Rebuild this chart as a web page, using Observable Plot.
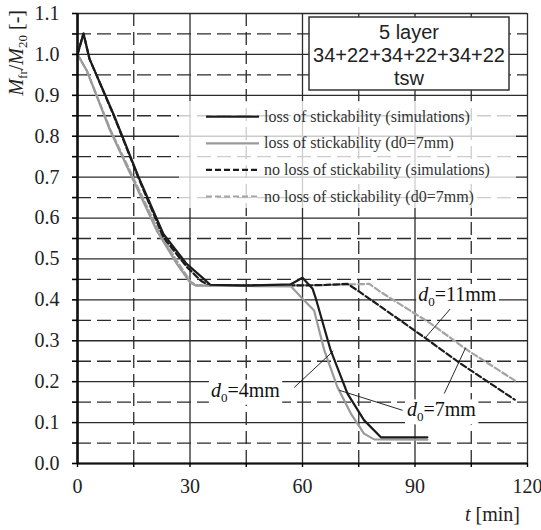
<!DOCTYPE html>
<html><head><meta charset="utf-8">
<script src="https://cdn.jsdelivr.net/npm/d3@7"></script>
<script src="https://cdn.jsdelivr.net/npm/@observablehq/plot@0.6"></script>
<style>body{margin:0;background:#fff}</style>
</head><body><div id="chart"></div>
<script>
// ---- data (t in min, Mfr/M20) ----
const lossSimT = [0, 1.6, 3.2, 9.6, 16.3, 22.9, 29.1, 33.6, 35.4, 45, 56.9, 60.0, 62.7, 63.5, 67.5, 72.0, 76.4, 80.9, 93.3];
const lossSimM = [1.0, 1.051, 0.989, 0.854, 0.70, 0.561, 0.488, 0.452, 0.437, 0.435, 0.438, 0.454, 0.427, 0.405, 0.277, 0.171, 0.106, 0.064, 0.064];
const loss7T = [0, 2.5, 8.7, 14.9, 21.1, 26.5, 30.0, 31.5, 45, 56.9, 60.4, 63.1, 65.8, 69.3, 72.9, 76.4, 79.1, 93.3];
const loss7M = [1.0, 0.96, 0.814, 0.692, 0.57, 0.488, 0.443, 0.435, 0.434, 0.433, 0.399, 0.374, 0.277, 0.187, 0.122, 0.073, 0.059, 0.058];
const noLossSimT = [0, 1.6, 3.2, 9.6, 16.3, 22.9, 29.1, 33.0, 35.0, 56, 65, 72.0, 74.7, 92.4, 102.2, 116.6];
const noLossSimM = [1.0, 1.051, 0.989, 0.852, 0.697, 0.553, 0.481, 0.446, 0.436, 0.435, 0.436, 0.439, 0.423, 0.309, 0.244, 0.156];
const noLoss7T = [0, 2.5, 8.7, 14.9, 21.1, 26.5, 30.3, 31.8, 56, 65, 77.8, 80.9, 94.2, 104.0, 117.3];
const noLoss7M = [1.0, 0.96, 0.817, 0.698, 0.578, 0.495, 0.443, 0.436, 0.435, 0.436, 0.439, 0.419, 0.342, 0.277, 0.199];

const seriesNames = ["loss of stickability (simulations)", "loss of stickability (d0=7mm)", "no loss of stickability (simulations)", "no loss of stickability (d0=7mm)"];
const seriesT = [lossSimT, loss7T, noLossSimT, noLoss7T];
const seriesM = [lossSimM, loss7M, noLossSimM, noLoss7M];

const xMajorTicks = [0, 30, 60, 90, 120];
const xMinorTicks = [15, 45, 75, 105];
const yMajorTicks = [0, 0.1, 0.2, 0.3, 0.4, 0.5, 0.6, 0.7, 0.8, 0.9, 1.0, 1.1];
const yMinorTicks = [0.05, 0.15, 0.25, 0.35, 0.45, 0.55, 0.65, 0.75, 0.85, 0.95, 1.05];

const titleLines = ["5 layer", "34+22+34+22+34+22", "tsw"];

// annotation labels (d0 = ...) and leader lines
const annotSizes = ["11mm", "7mm", "4mm"];
const annotT = [91.0, 88.0, 35.7];
const annotM = [0.396, 0.114, 0.162];
const leaderT1 = [99.5, 97.8, 86.7, 57.8];
const leaderM1 = [0.379, 0.171, 0.130, 0.186];
const leaderT2 = [92.9, 103.5, 69.8, 68.2];
const leaderM2 = [0.309, 0.283, 0.179, 0.275];

// ---- styles ----
const seriesColor = ["#1b1b1b", "#9a9a9a", "#1b1b1b", "#a4a4a4"];
const seriesDash = [null, null, "6,3", "6,3"];
const gridColor = "#2b2b2b";
const serif = "Liberation Serif";
const sans = "Liberation Sans";

const rows = seriesNames.flatMap((s, k) => seriesT[k].map((t, i) => ({series: k, t, m: seriesM[k][i]})));
const leaders = leaderT1.map((t, i) => ({t1: t, m1: leaderM1[i], t2: leaderT2[i], m2: leaderM2[i]}));

const legendFade = () => {
  const g = d3.create("svg:g");
  g.append("rect").attr("x", 179).attr("y", 101).attr("width", 337).attr("height", 107)
    .attr("fill", "white").attr("fill-opacity", 0.76);
  return g.node();
};
const titleBox = () => {
  const g = d3.create("svg:g");
  g.append("rect").attr("x", 309).attr("y", 17).attr("width", 200).attr("height", 73)
    .attr("fill", "white").attr("stroke", "#333").attr("stroke-width", 1.5);
  const tx = g.append("text").attr("font-family", sans).attr("font-size", 20)
    .attr("text-anchor", "middle").attr("fill", "#222");
  titleLines.forEach((t, k) => tx.append("tspan").attr("x", 409).attr("y", 38.5 + k * 23.3).text(t));
  return g.node();
};
const legend = () => {
  const g = d3.create("svg:g");
  seriesNames.forEach((name, k) => {
    const y = 116.7 + k * 26.6;
    g.append("line").attr("x1", 206).attr("x2", 259).attr("y1", y).attr("y2", y)
      .attr("stroke", seriesColor[k]).attr("stroke-width", 2.2)
      .attr("stroke-dasharray", seriesDash[k]);
    g.append("text").attr("x", 264).attr("y", y + 5).attr("font-family", serif)
      .attr("text-anchor", "start")
      .attr("font-size", 16).attr("fill", "#333").text(name);
  });
  return g.node();
};

const plot = Plot.plot({
  width: 541, height: 530,
  marginLeft: 77, marginRight: 14, marginTop: 13, marginBottom: 67,
  x: {domain: [0, 120]},
  y: {domain: [0, 1.1]},
  style: {background: "white"},
  marks: [
    Plot.ruleY(yMajorTicks, {stroke: gridColor, strokeWidth: 1.3}),
    Plot.ruleY(yMinorTicks, {stroke: gridColor, strokeWidth: 1.3, strokeDasharray: "14,6"}),
    Plot.ruleX(xMajorTicks, {stroke: gridColor, strokeWidth: 1.3}),
    Plot.ruleX(xMinorTicks, {stroke: gridColor, strokeWidth: 1.3, strokeDasharray: "13,6"}),
    legendFade,
    titleBox,
    Plot.line(rows.filter(d => d.series === 3), {x: "t", y: "m", stroke: seriesColor[3], strokeWidth: 2.2, strokeDasharray: "6,3"}),
    Plot.line(rows.filter(d => d.series === 2), {x: "t", y: "m", stroke: seriesColor[2], strokeWidth: 2.2, strokeDasharray: "6,3"}),
    Plot.line(rows.filter(d => d.series === 1), {x: "t", y: "m", stroke: seriesColor[1], strokeWidth: 2.2}),
    Plot.line(rows.filter(d => d.series === 0), {x: "t", y: "m", stroke: seriesColor[0], strokeWidth: 2.2}),
    Plot.link(leaders, {x1: "t1", y1: "m1", x2: "t2", y2: "m2", stroke: "#111", strokeWidth: 0.9}),
    Plot.ruleX([0], {stroke: "#111", strokeWidth: 2.6}),
    Plot.ruleY([0], {stroke: "#111", strokeWidth: 2.2}),
    Plot.axisY([...yMajorTicks, ...yMinorTicks], {tickSize: 5, tickPadding: 13, strokeWidth: 1.6,
      tickFormat: d => yMajorTicks.includes(d) ? d.toFixed(1) : "", label: null,
      fontSize: 20, fontFamily: "Liberation Serif", fill: "#222"}),
    Plot.axisX([...xMajorTicks, ...xMinorTicks], {tickSize: 4, tickPadding: 11, strokeWidth: 1.4,
      tickFormat: d => xMajorTicks.includes(d) ? String(d) : "", label: null,
      fontSize: 20, fontFamily: "Liberation Serif", fill: "#222"}),
    legend
  ]
});
document.getElementById("chart").append(plot);

// ---- text with italics / subscripts ----
const svg = d3.select(plot);
const sx = plot.scale("x"), sy = plot.scale("y");

annotSizes.forEach((s, i) => {
  const g = svg.append("g");
  const txt = g.append("text").attr("x", sx.apply(annotT[i])).attr("y", sy.apply(annotM[i]))
    .attr("text-anchor", "start")
    .attr("font-family", serif).attr("font-size", 20).attr("fill", "#111");
  txt.append("tspan").attr("font-style", "italic").text("d");
  txt.append("tspan").attr("font-size", 13).attr("dy", 5).text("0");
  txt.append("tspan").attr("dy", -5).text("=" + s);
  const bb = txt.node().getBBox();
  g.insert("rect", "text").attr("x", bb.x - 2).attr("y", bb.y + 1).attr("width", bb.width + 4)
    .attr("height", bb.height - 1).attr("fill", "white");
});

const yl = svg.append("text").attr("transform", "translate(23,10) rotate(-90)")
  .attr("text-anchor", "end").attr("font-family", serif).attr("font-size", 20).attr("fill", "#222");
yl.append("tspan").attr("font-style", "italic").text("M");
yl.append("tspan").attr("font-size", 13).attr("dy", 4).text("fr");
yl.append("tspan").attr("dy", -4).text("/");
yl.append("tspan").attr("font-style", "italic").text("M");
yl.append("tspan").attr("font-size", 13).attr("dy", 4).text("20");
yl.append("tspan").attr("dy", -4).text(" [-]");

const xl = svg.append("text").attr("x", 520).attr("y", 521).attr("text-anchor", "end")
  .attr("font-family", serif).attr("font-size", 20).attr("fill", "#222");
xl.append("tspan").attr("font-style", "italic").text("t");
xl.append("tspan").text(" [min]");
</script></body></html>
